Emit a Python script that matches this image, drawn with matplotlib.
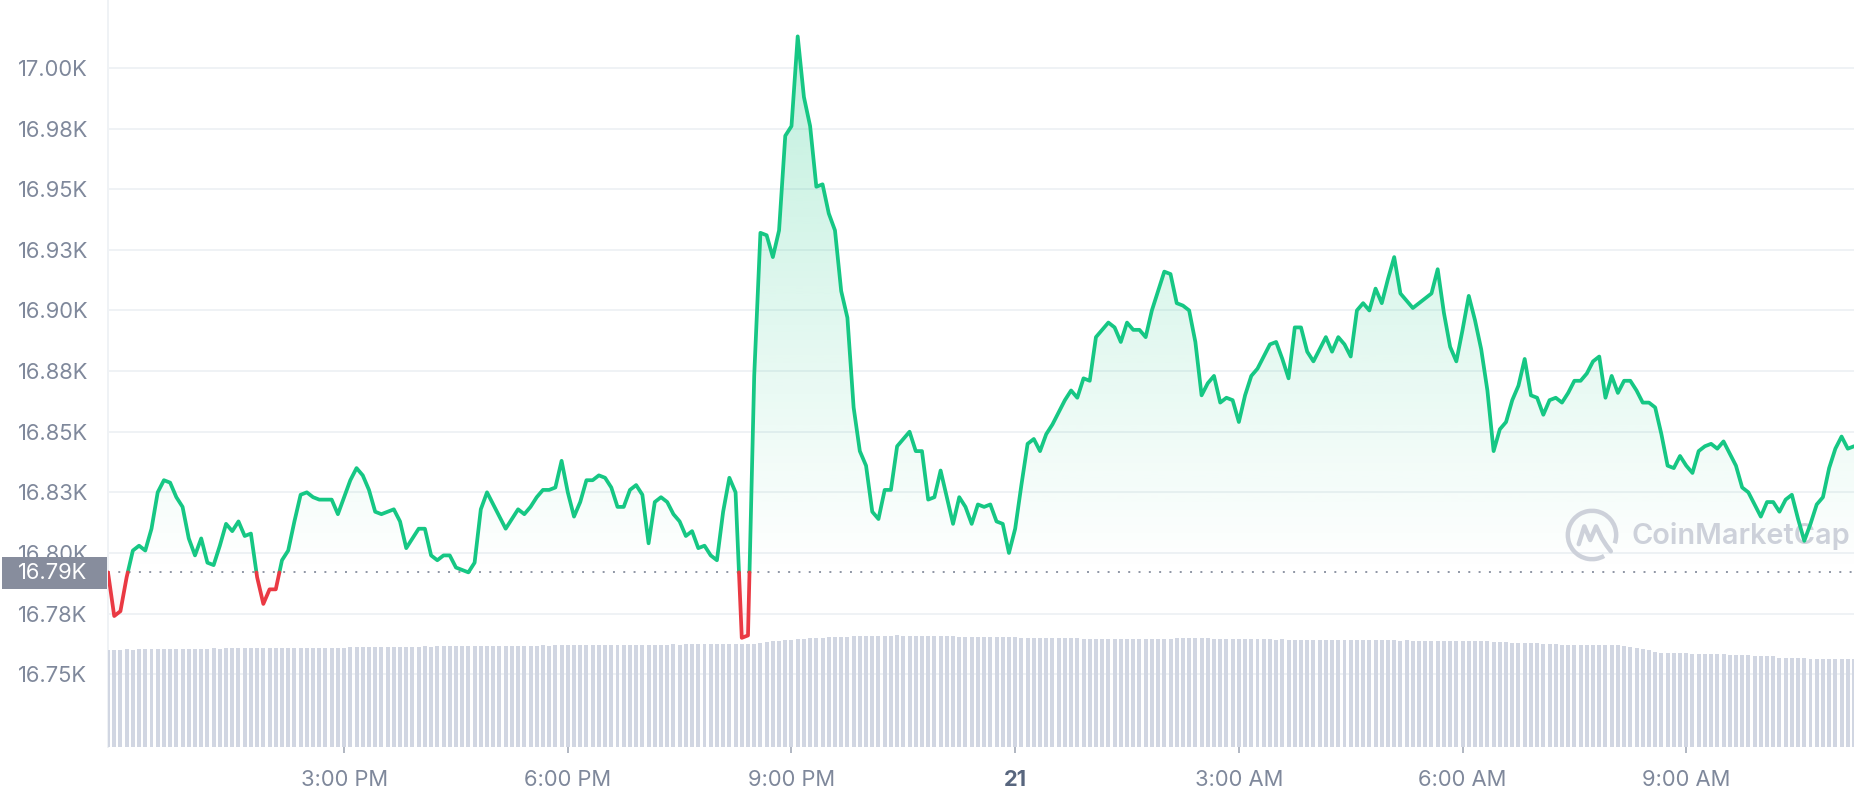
import numpy as np
import matplotlib
matplotlib.use("Agg")
import matplotlib.pyplot as plt
from matplotlib.path import Path
from matplotlib.patches import PathPatch, Rectangle, Arc
from matplotlib.colors import to_rgb

plt.rcParams['font.family'] = ['Inter', 'DejaVu Sans']

# ---------------- data ----------------
price = [
    16792, 16774, 16776, 16790, 16801, 16803, 16801, 16810, 16825, 16830,
    16829, 16823, 16819, 16806, 16799, 16806, 16796, 16795, 16803, 16812,
    16809, 16813, 16807, 16808, 16790, 16779, 16785, 16785, 16797, 16801,
    16813, 16824, 16825, 16823, 16822, 16822, 16822, 16816, 16823, 16830,
    16835, 16832, 16826, 16817, 16816, 16817, 16818, 16813, 16802, 16806,
    16810, 16810, 16799, 16797, 16799, 16799, 16794, 16793, 16792, 16796,
    16818, 16825, 16820, 16815, 16810, 16814, 16818, 16816, 16819, 16823,
    16826, 16826, 16827, 16838, 16825, 16815, 16821, 16830, 16830, 16832,
    16831, 16827, 16819, 16819, 16826, 16828, 16824, 16804, 16821, 16823,
    16821, 16816, 16813, 16807, 16809, 16802, 16803, 16799, 16797, 16817,
    16831, 16825, 16765, 16766, 16873, 16932, 16931, 16922, 16933, 16972,
    16976, 17013, 16988, 16976, 16951, 16952, 16940, 16933, 16908, 16897,
    16860, 16842, 16836, 16817, 16814, 16826, 16826, 16844, 16847, 16850,
    16842, 16842, 16822, 16823, 16834, 16823, 16812, 16823, 16819, 16812,
    16820, 16819, 16820, 16813, 16812, 16800, 16810, 16828, 16845, 16847,
    16842, 16849, 16853, 16858, 16863, 16867, 16864, 16872, 16871, 16889,
    16892, 16895, 16893, 16887, 16895, 16892, 16892, 16889, 16900, 16908,
    16916, 16915, 16903, 16902, 16900, 16887, 16865, 16870, 16873, 16862,
    16864, 16863, 16854, 16865, 16873, 16876, 16881, 16886, 16887, 16880,
    16872, 16893, 16893, 16883, 16879, 16884, 16889, 16883, 16889, 16886,
    16881, 16900, 16903, 16900, 16909, 16903, 16913, 16922, 16907, 16904,
    16901, 16903, 16905, 16907, 16917, 16899, 16885, 16879, 16892, 16906,
    16896, 16884, 16867, 16842, 16851, 16854, 16863, 16869, 16880, 16865,
    16864, 16857, 16863, 16864, 16862, 16866, 16871, 16871, 16874, 16879,
    16881, 16864, 16873, 16866, 16871, 16871, 16867, 16862, 16862, 16860,
    16849, 16836, 16835, 16840, 16836, 16833, 16842, 16844, 16845, 16843,
    16846, 16841, 16836, 16827, 16825, 16820, 16815, 16821, 16821, 16817,
    16822, 16824, 16814, 16805, 16812, 16820, 16823, 16835, 16843, 16848,
    16843, 16844,
]

volume = [  # billions USD (24h volume per 5-minute sample)
    20.8, 20.8, 20.8, 20.9, 20.8, 20.9, 20.9, 20.9, 20.9, 20.9, 21.0, 20.9, 21.0, 21.0, 21.0,
    21.0, 21.0, 21.1, 21.0, 21.1, 21.1, 21.1, 21.1, 21.1, 21.2, 21.1, 21.2, 21.2, 21.2, 21.2,
    21.2, 21.3, 21.2, 21.3, 21.3, 21.3, 21.3, 21.3, 21.3, 21.4,
    21.4, 21.4, 21.4, 21.5, 21.4, 21.5, 21.5, 21.5, 21.5, 21.5, 21.5, 21.6, 21.5, 21.6, 21.6,
    21.6, 21.6, 21.6, 21.6, 21.6, 21.7, 21.6, 21.7,
    21.7, 21.7, 21.7, 21.7, 21.7, 21.7, 21.7, 21.8, 21.7, 21.8, 21.8, 21.8, 21.8, 21.8, 21.8,
    21.8, 21.8, 21.8, 21.9, 21.8, 21.9, 21.9, 21.9, 21.9, 21.9, 21.9, 21.9,
    21.9, 22.0, 21.9, 22.0, 22.0, 22.0, 22.0, 22.0, 22.0, 22.0, 22.0, 22.0, 22.1, 22.0, 22.1,
    22.3, 22.5, 22.6, 22.8, 22.9, 23.0, 23.1,
    23.2, 23.3, 23.3, 23.4, 23.5, 23.5, 23.6, 23.6,
    23.7, 23.7, 23.8, 23.8, 23.8, 23.8, 23.8, 23.9, 23.8, 23.8, 23.8, 23.8, 23.8, 23.8, 23.7,
    23.7, 23.7, 23.6, 23.6, 23.6, 23.6, 23.6, 23.5, 23.5, 23.5, 23.5, 23.5,
    23.4, 23.4, 23.4, 23.3, 23.3, 23.3, 23.3, 23.3, 23.3, 23.3, 23.2, 23.2, 23.2, 23.2, 23.2,
    23.2, 23.2, 23.2, 23.2, 23.2, 23.1, 23.2, 23.1, 23.1, 23.2, 23.3,
    23.4, 23.4, 23.4, 23.3, 23.3, 23.2,
    23.2, 23.1, 23.1, 23.1, 23.1, 23.1, 23.1, 23.1, 23.1, 23.0, 23.1, 23.0, 23.0, 23.0, 23.0,
    23.0, 23.0, 23.0,
    23.0, 23.0, 22.9, 23.0, 22.9, 22.9, 22.9, 22.9, 22.9, 22.9, 22.9, 22.8, 22.9, 22.8, 22.8,
    22.8, 22.8, 22.8, 22.8, 22.7, 22.8, 22.7, 22.7, 22.7, 22.7, 22.6,
    22.5, 22.4, 22.4, 22.3, 22.3, 22.3, 22.2, 22.2,
    22.0, 22.0, 22.0, 21.9, 21.9, 21.9, 21.9, 21.9, 21.8, 21.8, 21.8, 21.8, 21.8, 21.7,
    21.4, 21.2, 21.0, 20.8,
    20.3, 20.2, 20.1, 20.1, 20.1, 20.1, 20.0, 20.0, 20.0, 20.0, 20.0, 20.0,
    19.7, 19.6, 19.6, 19.6, 19.5, 19.5, 19.5, 19.5,
    19.1, 19.0, 19.0, 19.0, 19.0, 18.9, 18.9, 18.9, 18.9, 18.9, 18.9, 18.8, 18.8,
]

start_minutes = -10          # first sample 11:50 AM (minutes after 12:00 PM)
step_minutes = 5
ref_price = 16792
ref_label = "16.79K"
ytick_values = [16750, 16775, 16800, 16825, 16850, 16875, 16900, 16925, 16950, 16975, 17000]
ytick_labels = ["16.75K", "16.78K", "16.80K", "16.83K", "16.85K", "16.88K",
                "16.90K", "16.93K", "16.95K", "16.98K", "17.00K"]
xtick_hours = [3, 6, 9, 12, 15, 18, 21]
xtick_labels = ["3:00 PM", "6:00 PM", "9:00 PM", "21", "3:00 AM", "6:00 AM", "9:00 AM"]

GREEN = "#16c784"
RED = "#ea3943"
LABEL = "#7f889b"
GRID = "#eff2f5"
BAR = "#d1d6e2"
WM = "#cdd1da"

# ---------------- figure ----------------
W, H = 1858, 800
fig = plt.figure(figsize=(W / 100, H / 100), dpi=100)
ax_l, ax_r, ax_b, ax_t = 108, 1854, 747, 0
ax = fig.add_axes([ax_l / W, (H - ax_b) / H, (ax_r - ax_l) / W, (ax_b - ax_t) / H])

p = np.asarray(price, float)
t = (start_minutes + step_minutes * np.arange(len(p))) / 60.0
ylo, yhi = 16720, 17028

# insert baseline crossings so colours switch exactly at the reference line
tt, pp = [t[0]], [p[0]]
for i in range(1, len(p)):
    a, b = p[i - 1] - ref_price, p[i] - ref_price
    if a * b < 0:
        f = a / (a - b)
        tt.append(t[i - 1] + f * (t[i] - t[i - 1]))
        pp.append(ref_price)
    tt.append(t[i])
    pp.append(p[i])
tt = np.asarray(tt)
pp = np.asarray(pp)


def gradient_fill(x, y_top, y_bot, color, alpha_fn, lo, hi):
    coll = ax.fill_between(x, y_top, y_bot, facecolor="none", edgecolor="none")
    path = Path.make_compound_path(*coll.get_paths())
    coll.remove()
    patch = PathPatch(path, transform=ax.transData, facecolor="none", edgecolor="none")
    n = 400
    ys = np.linspace(lo, hi, n)
    img = np.zeros((n, 1, 4))
    img[..., :3] = to_rgb(color)
    img[:, 0, 3] = alpha_fn(ys)
    im = ax.imshow(img, extent=[x[0], x[-1], lo, hi], origin="lower",
                   aspect="auto", interpolation="bilinear", zorder=1)
    im.set_clip_path(patch)


gradient_fill(tt, np.maximum(pp, ref_price), ref_price, GREEN,
              lambda v: np.clip(0.26 * (v - ref_price) / (17003 - ref_price), 0, 1),
              ref_price, yhi)
gradient_fill(tt, np.minimum(pp, ref_price), ref_price, RED,
              lambda v: np.clip(0.08 * (ref_price - v) / (ref_price - 16765), 0, 1),
              ylo, ref_price)

green_y = np.where(pp >= ref_price, pp, np.nan)
red_y = np.where(pp <= ref_price, pp, np.nan)
ax.plot(tt, green_y, color=GREEN, lw=2.7, solid_joinstyle="round", solid_capstyle="round", zorder=4)
ax.plot(tt, red_y, color=RED, lw=2.7, solid_joinstyle="round", solid_capstyle="round", zorder=4)

ax.axhline(ref_price, color="#8f96a5", lw=1.4, ls=(0, (1, 4.3)), zorder=3)

ax.set_xlim(t[0], t[-1])
ax.set_ylim(ylo, yhi)
ax.set_yticks(ytick_values)
ax.set_yticklabels(ytick_labels)
ax.set_xticks(xtick_hours)
ax.set_xticklabels(xtick_labels)
ax.grid(axis="y", color=GRID, lw=1.4)
ax.set_axisbelow(True)
for s in ("top", "right", "bottom"):
    ax.spines[s].set_visible(False)
ax.spines["left"].set_color(GRID)
ax.spines["left"].set_linewidth(1.4)
ax.tick_params(axis="y", length=0, pad=64.8, labelsize=15.8, labelcolor=LABEL)
for lab in ax.get_yticklabels():
    lab.set_horizontalalignment("left")
ax.tick_params(axis="x", length=4, width=1.2, color="#a3aab8", pad=12.5,
               labelsize=15.8, labelcolor=LABEL)
for lab in ax.get_xticklabels():
    if lab.get_text() == "21":
        lab.set_fontweight("bold")
        lab.set_color("#58667e")

# volume bars on their own scale
axv = ax.twinx()
tv = (start_minutes + step_minutes * np.arange(len(volume))) / 60.0
axv.bar(tv, volume, width=step_minutes / 60.0 * 0.64, color=BAR, linewidth=0, zorder=1)
axv.set_ylim(0, 160)
axv.set_xlim(t[0], t[-1])
axv.axis("off")

# watermark
ax.text(1632 / W, 1 - 536 / H, "CoinMarketCap", transform=fig.transFigure,
        fontsize=20.8, fontweight="semibold", color=WM, va="center", ha="left",
        zorder=2)
axl = fig.add_axes([1564 / W, 1 - 563 / H, 56 / W, 56 / H])
axl.set_xlim(-1.1, 1.1)
axl.set_ylim(-1.1, 1.1)
axl.set_aspect("equal")
axl.axis("off")
axl.add_patch(Arc((0, 0), 1.9, 1.9, theta1=-20, theta2=300, color=WM, lw=3.2))
axl.plot([-0.52, -0.3, -0.07, 0.16, 0.38, 0.56, 0.74],
         [-0.36, 0.34, -0.2, 0.34, -0.12, -0.4, -0.64], color=WM, lw=3.2,
         solid_joinstyle="round", solid_capstyle="round")

# reference price tag
fig.add_artist(Rectangle((2 / W, 1 - 589 / H), 105 / W, 32 / H, transform=fig.transFigure,
                         facecolor="#878d9d", edgecolor="none", zorder=10))
fig.text(18 / W, 1 - 573 / H, ref_label, color="white", fontsize=15.8, va="center",
         ha="left", zorder=11)

fig.savefig("out.png", dpi=100, facecolor="white")
